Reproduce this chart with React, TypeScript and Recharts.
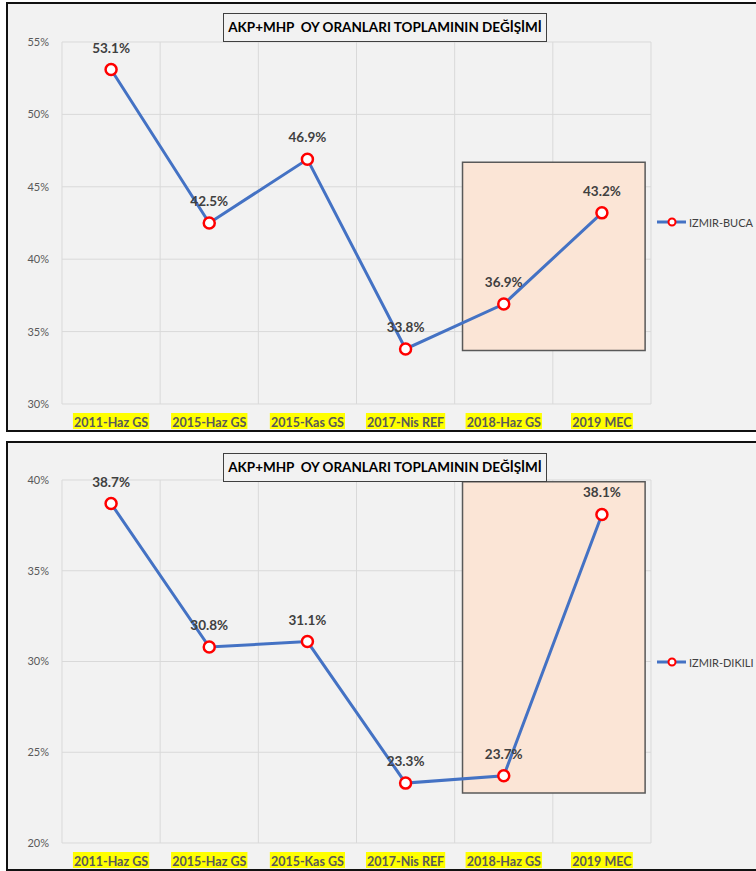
import React, { useLayoutEffect, useRef, useState } from 'react';
import { LineChart, Line, XAxis, YAxis, CartesianGrid, ReferenceArea, LabelList } from 'recharts';

const categories = ['2011-Haz GS', '2015-Haz GS', '2015-Kas GS', '2017-Nis REF', '2018-Haz GS', '2019 MEC'];
const bucaValues = [53.1, 42.5, 46.9, 33.8, 36.9, 43.2];
const dikiliValues = [38.7, 30.8, 31.1, 23.3, 23.7, 38.1];
const bucaTicks = [30, 35, 40, 45, 50, 55];
const dikiliTicks = [20, 25, 30, 35, 40];
const bucaHighlight = { x1: 4.08, x2: 5.94, y1: 33.7, y2: 46.7 };
const dikiliHighlight = { x1: 4.08, x2: 5.94, y1: 22.75, y2: 39.9 };
const titleText = 'AKP+MHP\u00a0 OY ORANLARI TOPLAMININ DEĞİŞİMİ';

const FONT = 'Lato, "Open Sans", sans-serif';

const XTick = (props: any) => {
  const { x, y, payload } = props;
  const label = categories[Math.floor(payload.value)];
  const ref = useRef<SVGTextElement>(null);
  const [w, setW] = useState(label.length * 6.8);
  useLayoutEffect(() => {
    if (ref.current) setW(ref.current.getBBox().width);
  }, [label]);
  return (
    <g>
      <rect x={x - w / 2 - 1} y={y + 9} width={w + 2} height={16} fill="#ffff00" />
      <text ref={ref} x={x} y={y + 23} textAnchor="middle" fontFamily={FONT} fontWeight="bold" fontSize={12.5} fill="#595959">
        {label}
      </text>
    </g>
  );
};

const DataLabel = (props: any) => {
  const { x, y, value } = props;
  return (
    <text x={x} y={y - 17} textAnchor="middle" fontFamily={FONT} fontWeight="bold" fontSize={13.5} fill="#404040">
      {value.toFixed(1)}%
    </text>
  );
};

type PanelProps = {
  values: number[];
  ticks: number[];
  highlight: { x1: number; x2: number; y1: number; y2: number };
  name: string;
  panelTop: number;
  chartTop: number;
  chartHeight: number;
  marginTop: number;
  titleTop: number;
  legendY: number;
};

const Panel = ({ values, ticks, highlight, name, panelTop, chartTop, chartHeight, marginTop, titleTop, legendY }: PanelProps) => {
  const data = categories.map((c, i) => ({ x: i + 0.5, name: c, value: values[i] }));
  return (
    <>
      <div
        style={{
          position: 'absolute',
          left: 6,
          top: panelTop,
          width: 770,
          height: 430,
          boxSizing: 'border-box',
          border: '2px solid #111',
          background: '#f2f2f2',
        }}
      />
      <div style={{ position: 'absolute', left: 0, top: chartTop }}>
        <LineChart width={756} height={chartHeight} data={data} margin={{ top: marginTop, right: 105, left: 0, bottom: 0 }}>
          <CartesianGrid
            stroke="#d9d9d9"
            strokeWidth={1}
            verticalCoordinatesGenerator={({ offset }: any) =>
              Array.from({ length: categories.length + 1 }, (_, i) => offset.left + (i * offset.width) / categories.length)
            }
          />
          <XAxis
            dataKey="x"
            type="number"
            domain={[0, categories.length]}
            ticks={categories.map((_, i) => i + 0.5)}
            axisLine={false}
            tickLine={false}
            tickSize={0}
            tickMargin={0}
            height={28}
            tick={<XTick />}
            interval={0}
          />
          <YAxis
            type="number"
            domain={[ticks[0], ticks[ticks.length - 1]]}
            ticks={ticks}
            axisLine={false}
            tickLine={false}
            tickSize={0}
            tickMargin={13}
            width={62}
            tick={{ fontFamily: FONT, fontSize: 11, fill: '#595959' }}
            tickFormatter={(v: number) => `${v}%`}
            interval={0}
          />
          <ReferenceArea
            x1={highlight.x1}
            x2={highlight.x2}
            y1={highlight.y1}
            y2={highlight.y2}
            fill="#fbe5d6"
            fillOpacity={1}
            stroke="#595959"
            strokeWidth={1.5}
            ifOverflow="visible"
          />
          <Line
            type="linear"
            dataKey="value"
            stroke="#4472c4"
            strokeWidth={3}
            isAnimationActive={false}
            dot={{ r: 5.5, fill: '#ffffff', stroke: '#ff0000', strokeWidth: 2.5 }}
            activeDot={false}
          >
            <LabelList dataKey="value" content={<DataLabel />} />
          </Line>
        </LineChart>
      </div>
      <div
        style={{
          position: 'absolute',
          left: 223,
          top: titleTop,
          width: 324,
          height: 29,
          boxSizing: 'border-box',
          border: '1px solid #404040',
          background: '#f2f2f2',
          fontFamily: FONT,
          fontWeight: 'bold',
          fontSize: 13.5,
          color: '#000',
          lineHeight: '27px',
          textAlign: 'center',
          whiteSpace: 'nowrap',
        }}
      >
        {titleText}
      </div>
      <div style={{ position: 'absolute', left: 655, top: legendY - 8, height: 16, display: 'flex', alignItems: 'center' }}>
        <svg width={34} height={16}>
          <line x1={2} y1={8} x2={31} y2={8} stroke="#4472c4" strokeWidth={3} />
          <circle cx={17} cy={8} r={3.5} fill="#ffffff" stroke="#ff0000" strokeWidth={2} />
        </svg>
        <span style={{ fontFamily: FONT, fontSize: 11, color: '#404040', whiteSpace: 'nowrap' }}>{name}</span>
      </div>
    </>
  );
};

export default function App() {
  return (
    <div style={{ position: 'absolute', left: 0, top: 0, width: 756, height: 871, overflow: 'hidden', background: '#ffffff' }}>
      <Panel
        values={bucaValues}
        ticks={bucaTicks}
        highlight={bucaHighlight}
        name="IZMIR-BUCA"
        panelTop={2}
        chartTop={0}
        chartHeight={432}
        marginTop={42}
        titleTop={13}
        legendY={222}
      />
      <Panel
        values={dikiliValues}
        ticks={dikiliTicks}
        highlight={dikiliHighlight}
        name="IZMIR-DIKILI"
        panelTop={441}
        chartTop={440}
        chartHeight={431}
        marginTop={40}
        titleTop={453}
        legendY={662}
      />
    </div>
  );
}
